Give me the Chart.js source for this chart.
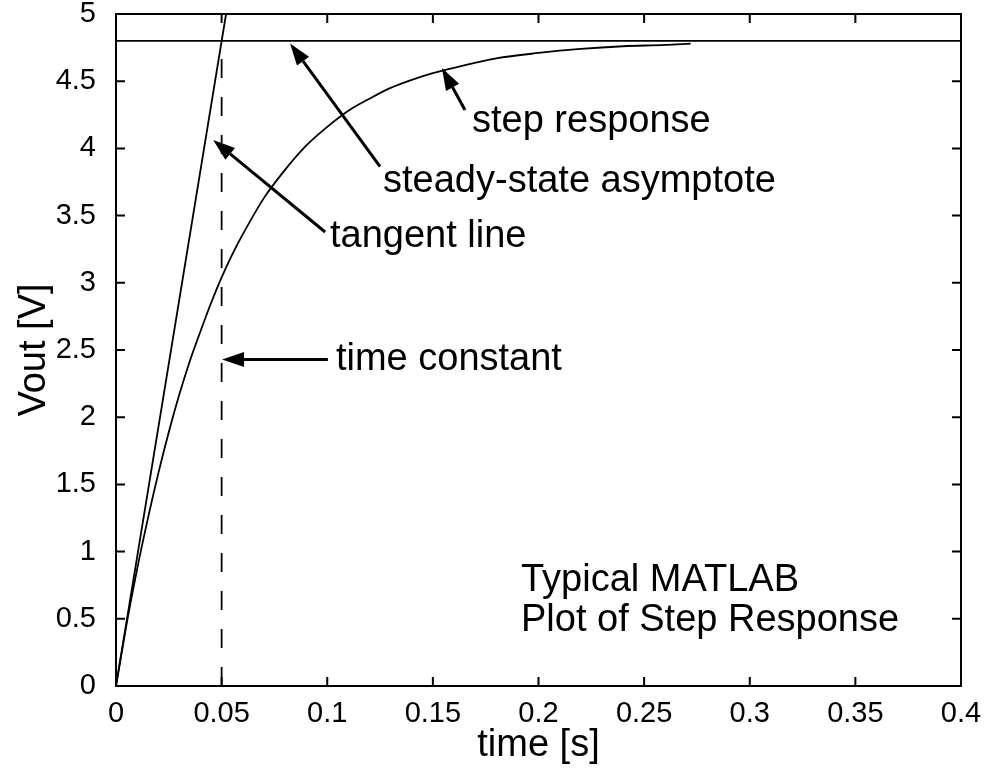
<!DOCTYPE html>
<html>
<head>
<meta charset="utf-8">
<title>Typical MATLAB Plot of Step Response</title>
<script src="https://cdn.jsdelivr.net/npm/chart.js@4.4.1/dist/chart.umd.min.js"></script>
<style>
    html, body { margin: 0; padding: 0; background: #fff; }
    #container { width: 984px; height: 772px; }
</style>
</head>
<body>
<div id="container"><canvas id="canvas"></canvas></div>
<script>
// values
var stepTime = [0, 0.005, 0.01, 0.015, 0.02, 0.025, 0.03, 0.035, 0.04, 0.045, 0.05, 0.055, 0.06,
    0.07, 0.08, 0.09, 0.1, 0.11, 0.12, 0.13, 0.14, 0.15, 0.16, 0.18, 0.2, 0.22, 0.24, 0.26, 0.272];
var stepVout = [0, 0.46, 0.87, 1.24, 1.58, 1.89, 2.17, 2.42, 2.64, 2.85, 3.04, 3.21, 3.36,
    3.63, 3.84, 4.02, 4.16, 4.28, 4.37, 4.45, 4.51, 4.56, 4.6, 4.67, 4.71, 4.74, 4.76, 4.77, 4.78];

var tangentTime = [0, 0.0521];
var tangentVout = [0, 5];

var asymptoteTime = [0, 0.4];
var asymptoteVout = [4.8, 4.8];

var tauTime = [0.05, 0.05];
var tauVout = [0, 4.8];

var xTicks = [0, 0.05, 0.1, 0.15, 0.2, 0.25, 0.3, 0.35, 0.4];
var xTickLabels = ['0', '0.05', '0.1', '0.15', '0.2', '0.25', '0.3', '0.35', '0.4'];
var yTicks = [0, 0.5, 1, 1.5, 2, 2.5, 3, 3.5, 4, 4.5, 5];
var yTickLabels = ['0', '0.5', '1', '1.5', '2', '2.5', '3', '3.5', '4', '4.5', '5'];

// annotation texts (data units, left edge / baseline)
var labelTexts = ['step response', 'steady-state asymptote', 'tangent line', 'time constant',
    'Typical MATLAB', 'Plot of Step Response'];
var labelX = [0.1685, 0.1264, 0.1013, 0.1041, 0.1917, 0.1917];
var labelY = [4.122, 3.676, 3.266, 2.351, 0.707, 0.409];

// arrows: tail -> tip (data units)
var arrowTailX = [0.1652, 0.1250, 0.0990, 0.1003];
var arrowTailY = [4.286, 3.864, 3.378, 2.43];
var arrowTipX = [0.1543, 0.0824, 0.0460, 0.0502];
var arrowTipY = [4.598, 4.781, 4.063, 2.43];

var FONT = '"Liberation Sans", Arial, Helvetica, sans-serif';

function toPoints(xs, ys) {
    return xs.map(function (x, i) { return { x: x, y: ys[i] }; });
}

function setTicks(values) {
    return function (scale) {
        scale.ticks = values.map(function (v) { return { value: v }; });
    };
}

// box around the plot with MATLAB style inward ticks
var boxPlugin = {
    id: 'box',
    afterDatasetsDraw: function (chart) {
        var ctx = chart.ctx, a = chart.chartArea;
        var xs = chart.scales.x, ys = chart.scales.y;
        var len = 9;
        ctx.save();
        ctx.strokeStyle = '#000';
        ctx.lineWidth = 2;
        ctx.strokeRect(a.left, a.top, a.right - a.left, a.bottom - a.top);
        ctx.beginPath();
        xTicks.forEach(function (v) {
            var px = xs.getPixelForValue(v);
            ctx.moveTo(px, a.bottom); ctx.lineTo(px, a.bottom - len);
            ctx.moveTo(px, a.top); ctx.lineTo(px, a.top + len);
        });
        yTicks.forEach(function (v) {
            var py = ys.getPixelForValue(v);
            ctx.moveTo(a.left, py); ctx.lineTo(a.left + len, py);
            ctx.moveTo(a.right, py); ctx.lineTo(a.right - len, py);
        });
        ctx.stroke();
        ctx.restore();
    }
};

var notePlugin = {
    id: 'notes',
    afterDraw: function (chart) {
        var ctx = chart.ctx;
        var xs = chart.scales.x, ys = chart.scales.y;
        ctx.save();
        ctx.fillStyle = '#000';
        ctx.strokeStyle = '#000';
        // arrows
        for (var i = 0; i < arrowTipX.length; i++) {
            var x0 = xs.getPixelForValue(arrowTailX[i]), y0 = ys.getPixelForValue(arrowTailY[i]);
            var x1 = xs.getPixelForValue(arrowTipX[i]), y1 = ys.getPixelForValue(arrowTipY[i]);
            var ang = Math.atan2(y1 - y0, x1 - x0);
            var hl = 22, hw = 7.5;
            var bx = x1 - hl * Math.cos(ang), by = y1 - hl * Math.sin(ang);
            ctx.lineWidth = 3;
            ctx.beginPath();
            ctx.moveTo(x0, y0);
            ctx.lineTo(bx, by);
            ctx.stroke();
            ctx.beginPath();
            ctx.moveTo(x1, y1);
            ctx.lineTo(bx + hw * Math.sin(ang), by - hw * Math.cos(ang));
            ctx.lineTo(bx - hw * Math.sin(ang), by + hw * Math.cos(ang));
            ctx.closePath();
            ctx.fill();
        }
        // texts
        ctx.font = '38px ' + FONT;
        ctx.textAlign = 'left';
        ctx.textBaseline = 'alphabetic';
        labelTexts.forEach(function (t, i) {
            ctx.fillText(t, xs.getPixelForValue(labelX[i]), ys.getPixelForValue(labelY[i]));
        });
        ctx.restore();
    }
};

var lineStyle = {
    showLine: true,
    pointRadius: 0,
    borderColor: '#000',
    borderWidth: 1.8,
    fill: false
};

var config = {
    type: 'scatter',
    data: {
        datasets: [
            Object.assign({ label: 'step response', data: toPoints(stepTime, stepVout),
                cubicInterpolationMode: 'monotone' }, lineStyle),
            Object.assign({ label: 'tangent line', data: toPoints(tangentTime, tangentVout) }, lineStyle),
            Object.assign({ label: 'steady-state asymptote', data: toPoints(asymptoteTime, asymptoteVout) }, lineStyle),
            Object.assign({ label: 'time constant', data: toPoints(tauTime, tauVout), borderDash: [19, 19] }, lineStyle)
        ]
    },
    options: {
        responsive: false,
        animation: false,
        devicePixelRatio: 1,
        layout: { padding: { left: 0, top: 14, right: 23, bottom: 0 } },
        plugins: {
            legend: { display: false },
            tooltip: { enabled: false }
        },
        scales: {
            x: {
                type: 'linear',
                min: 0, max: 0.4,
                afterBuildTicks: setTicks(xTicks),
                afterFit: function (s) { s.height = 86; s.paddingLeft = 0; s.paddingRight = 0; },
                grid: { display: false },
                border: { display: false },
                ticks: {
                    padding: 3,
                    color: '#000',
                    font: { family: FONT, size: 29 },
                    maxRotation: 0,
                    callback: function (v, i) { return xTickLabels[i]; }
                },
                title: {
                    display: true, text: 'time [s]', color: '#000',
                    font: { family: FONT, size: 38 },
                    padding: { top: 0, bottom: 4 }
                }
            },
            y: {
                min: 0, max: 5,
                afterBuildTicks: setTicks(yTicks),
                afterFit: function (s) { s.width = 116; s.paddingTop = 0; s.paddingBottom = 0; },
                grid: { display: false },
                border: { display: false },
                ticks: {
                    padding: 12,
                    color: '#000',
                    font: { family: FONT, size: 29 },
                    callback: function (v, i) { return yTickLabels[i]; }
                },
                title: {
                    display: true, text: 'Vout [V]', color: '#000',
                    font: { family: FONT, size: 38 },
                    padding: { top: 12, bottom: 0 }
                }
            }
        }
    },
    plugins: [boxPlugin, notePlugin]
};

var canvas = document.getElementById('canvas');
canvas.width = 984;
canvas.height = 772;
window.myChart = new Chart(canvas.getContext('2d'), config);
</script>
</body>
</html>
